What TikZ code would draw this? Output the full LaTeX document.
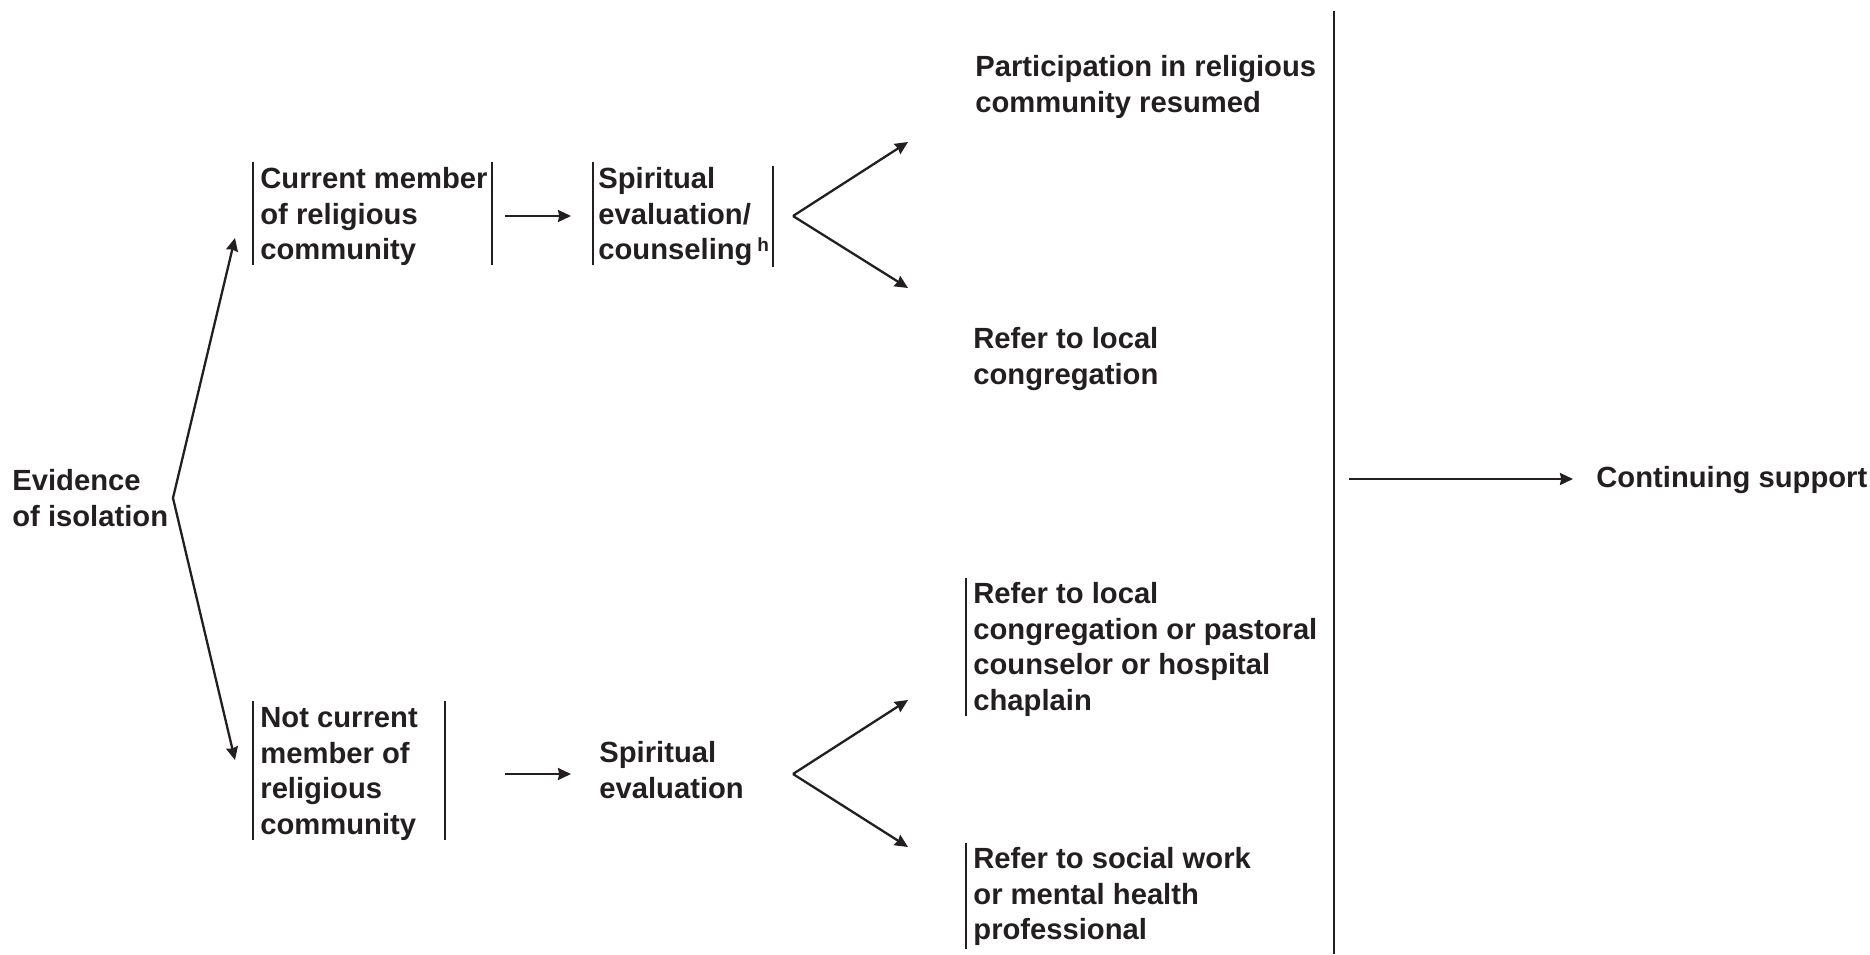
\documentclass[tikz,border=0pt]{standalone}
\usepackage{fontspec}
\setmainfont{Liberation Sans}
\usetikzlibrary{arrows.meta}
\definecolor{ink}{HTML}{231F20}
\begin{document}
\begin{tikzpicture}[x=0.5pt,y=-0.5pt,
  lbl/.style={anchor=north west,align=left,inner sep=0pt,text=ink,font=\fontsize{14.6pt}{17.85pt}\selectfont\bfseries},
  arr/.style={draw=ink,line width=1.15pt,-{Stealth[length=6.5pt,width=6pt,inset=0.6pt]}},
  bar/.style={draw=ink,line width=1.3pt},
  divider/.style={draw=ink,line width=1.3pt}]
\useasboundingbox (0,0) rectangle (1870,954);
% text nodes (y = first baseline - 25)
\node[lbl] (evid) at (12,465) {\strut Evidence\\of isolation};
\node[lbl] (cur) at (260,163) {\strut Current member\\of religious\\community};
\node[lbl] (spc) at (598,163) {\strut Spiritual\\evaluation/\\counseling\,\raisebox{0.55ex}{\fontsize{9.5pt}{9.5pt}\selectfont h}};
\node[lbl] (part) at (975,51) {\strut Participation in religious\\community resumed};
\node[lbl] (ref1) at (973,323) {\strut Refer to local\\congregation};
\node[lbl] (cont) at (1596,462) {\strut Continuing support};
\node[lbl] (notc) at (260,702) {\strut Not current\\member of\\religious\\community};
\node[lbl] (spe) at (599,737) {\strut Spiritual\\evaluation};
\node[lbl] (ref2) at (973,578) {\strut Refer to local\\congregation or pastoral\\counselor or hospital\\chaplain};
\node[lbl] (ref3) at (973,843) {\strut Refer to social work\\or mental health\\professional};
% bars
\draw[bar] (253,162) -- (253,265);
\draw[bar] (492,162) -- (492,265);
\draw[bar] (593,162) -- (593,265);
\draw[bar] (773,166) -- (773,267);
\draw[bar] (253,701) -- (253,840);
\draw[bar] (445,701) -- (445,840);
\draw[bar] (966,578) -- (966,716);
\draw[bar] (966,843) -- (966,949);
% divider
\coordinate (dtop) at (1334,11);
\coordinate (dbot) at (1334,954);
\draw[divider] (dtop) -- (dbot);
% connector points
\coordinate (v1) at (173,498);
\coordinate (t1) at (235,238);
\coordinate (t2) at (235,760);
\coordinate (a1s) at (505,216);
\coordinate (a1e) at (571,216);
\coordinate (a2s) at (505,774);
\coordinate (a2e) at (571,774);
\coordinate (f1) at (793,216);
\coordinate (f1u) at (908,142);
\coordinate (f1d) at (908,288);
\coordinate (f2) at (793,774);
\coordinate (f2u) at (908,700);
\coordinate (f2d) at (908,847);
\coordinate (cs) at (1349,479);
\coordinate (ce) at (1573,479);
% connectors
\draw[arr] (v1) -- (t1);
\draw[arr] (v1) -- (t2);
\draw[arr] (a1s) -- (a1e);
\draw[arr] (a2s) -- (a2e);
\draw[arr] (f1) -- (f1u);
\draw[arr] (f1) -- (f1d);
\draw[arr] (f2) -- (f2u);
\draw[arr] (f2) -- (f2d);
\draw[arr] (cs) -- (ce);
\end{tikzpicture}
\end{document}
